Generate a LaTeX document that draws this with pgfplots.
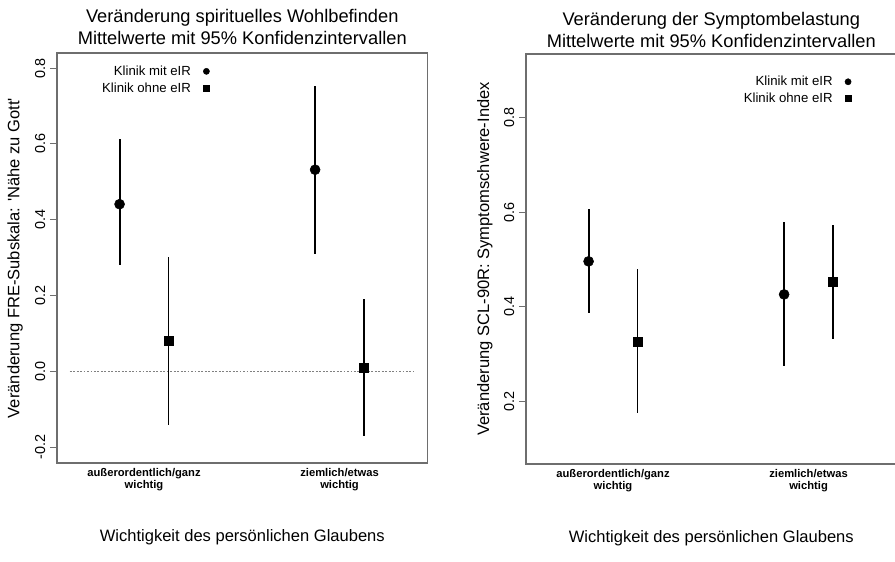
\documentclass[border=0pt]{standalone}
\usepackage{fontspec}
\setmainfont{Liberation Sans}
\usepackage{pgfplots}
\usepackage{pgfplotstable}
\pgfplotsset{compat=1.18}

% left panel: FRE-Subskala
\pgfplotstableread{
x y lo hi
0.875 0.441 0.280 0.612
1.875 0.532 0.310 0.753
}\leftmit
\pgfplotstableread{
x y lo hi
1.125 0.081 -0.142 0.301
2.125 0.010 -0.171 0.192
}\leftohne
% right panel: SCL-90R
\pgfplotstableread{
x y lo hi
0.875 0.496 0.386 0.607
1.875 0.426 0.274 0.580
}\rightmit
\pgfplotstableread{
x y lo hi
1.125 0.326 0.175 0.480
2.125 0.452 0.331 0.574
}\rightohne

\definecolor{boxgray}{RGB}{110,110,110}

\pgfplotsset{
  myax/.style={
    scale only axis, width=277.9pt, height=307.5pt,
    xmin=0.555, xmax=2.45,
    xtick={1,2},
    xticklabels={{außerordentlich/ganz\\wichtig},{ziemlich/etwas\\wichtig}},
    xticklabel style={align=center, yshift=4.5pt, font=\fontsize{8.4}{9}\selectfont\bfseries},
    major x tick style={draw=none},
    ytick pos=left, tick align=outside, major tick length=5.25pt,
    ytick style={boxgray, line width=0.8pt},
    axis line style={boxgray, line width=0.8pt},
    yticklabel style={rotate=90, anchor=south, font=\fontsize{10.8}{12}\selectfont},
    title style={align=center, font=\fontsize{13.7}{16.2}\selectfont, at={(axis description cs:0.5,1)}, anchor=center, yshift=13.6pt},
    xlabel style={at={(axis description cs:0.5,0)}, anchor=center, yshift=-55.5pt, font=\fontsize{12.4}{14}\selectfont},
    ylabel style={anchor=center, font=\fontsize{12.4}{14}\selectfont},
    legend style={draw=none, fill=none, anchor=north east, column sep=7.3pt, font=\fontsize{9.9}{11}\selectfont},
    legend plot pos=right, legend cell align=right,
    xlabel={Wichtigkeit des persönlichen Glaubens},
  },
  ciplot/.style={only marks, black, mark options={fill=black, draw=black},
    error bars/y dir=both, error bars/y explicit, error bars/error mark=none,
    error bars/error bar style={line width=1.4pt, black}},
}

\begin{document}
\begin{tikzpicture}
\useasboundingbox (0,0) rectangle (671.25pt,420.75pt);
\begin{axis}[myax, at={(42.75pt,73.5pt)}, anchor=south west,
  ymin=-0.242, ymax=0.84,
  ytick={-0.2,0,0.2,0.4,0.6,0.8},
  yticklabels={-0.2,0.0,0.2,0.4,0.6,0.8},
  title={Veränderung spirituelles Wohlbefinden\\Mittelwerte mit 95\% Konfidenzintervallen},
  ylabel={Veränderung FRE-Subskala: \textquotesingle Nähe zu Gott\textquotesingle},
  ylabel style={at={(axis description cs:-0.1134,0.5)}},
  legend style={at={(axis description cs:0.423,0.983)}},
]
\addlegendimage{only marks, mark=*, mark size=2.3pt, black}
\addlegendentry{Klinik mit eIR}
\addlegendimage{only marks, mark=square*, mark size=2.25pt, black}
\addlegendentry{Klinik ohne eIR}
\addplot[gray, line width=0.8pt, dash pattern=on 1.4pt off 1.2pt, forget plot] coordinates {(0.62,0) (2.376,0)};
\addplot[ciplot, mark=*, mark size=3.75pt, forget plot] table[x=x, y=y, y error plus expr=\thisrow{hi}-\thisrow{y}, y error minus expr=\thisrow{y}-\thisrow{lo}] {\leftmit};
\addplot[ciplot, mark=square*, mark size=3.4pt, forget plot] table[x=x, y=y, y error plus expr=\thisrow{hi}-\thisrow{y}, y error minus expr=\thisrow{y}-\thisrow{lo}] {\leftohne};
\end{axis}

\begin{axis}[myax, at={(394.5pt,72.75pt)}, anchor=south west,
  ymin=0.067, ymax=0.935,
  ytick={0.2,0.4,0.6,0.8},
  yticklabels={0.2,0.4,0.6,0.8},
  title={Veränderung der Symptombelastung\\Mittelwerte mit 95\% Konfidenzintervallen},
  title style={yshift=-1.5pt},
  ylabel={Veränderung SCL-90R: Symptomschwere-Index},
  ylabel style={at={(axis description cs:-0.111,0.5)}},
  legend style={at={(axis description cs:0.889,0.960)}},
]
\addlegendimage{only marks, mark=*, mark size=2.3pt, black}
\addlegendentry{Klinik mit eIR}
\addlegendimage{only marks, mark=square*, mark size=2.25pt, black}
\addlegendentry{Klinik ohne eIR}
\addplot[ciplot, mark=*, mark size=3.75pt, forget plot] table[x=x, y=y, y error plus expr=\thisrow{hi}-\thisrow{y}, y error minus expr=\thisrow{y}-\thisrow{lo}] {\rightmit};
\addplot[ciplot, mark=square*, mark size=3.4pt, forget plot] table[x=x, y=y, y error plus expr=\thisrow{hi}-\thisrow{y}, y error minus expr=\thisrow{y}-\thisrow{lo}] {\rightohne};
\end{axis}
\end{tikzpicture}
\end{document}
